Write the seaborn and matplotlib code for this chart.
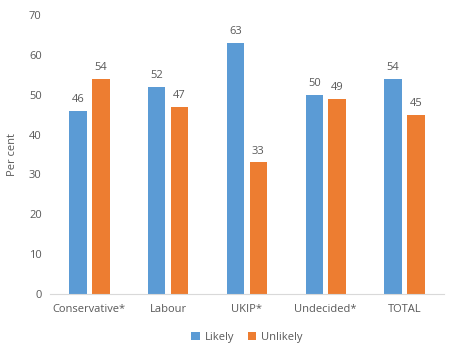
import matplotlib
matplotlib.use("Agg")
import matplotlib.pyplot as plt
import seaborn as sns
import pandas as pd

categories = ["Conservative*", "Labour", "UKIP*", "Undecided*", "TOTAL"]
likely = [46, 52, 63, 50, 54]
unlikely = [54, 47, 33, 49, 45]
series = ["Likely", "Unlikely"]

df = pd.DataFrame({
    "cat": categories * 2,
    "val": likely + unlikely,
    "series": [series[0]] * len(categories) + [series[1]] * len(categories),
})

sns.set_theme(style="white")
plt.rcParams['font.family'] = ['Open Sans', 'DejaVu Sans']
txt = "#595959"
fs = 8

fig = plt.figure(figsize=(4.59, 3.5), dpi=100)
ax = fig.add_axes([0.109, 0.16, 0.858, 0.797])
sns.barplot(data=df, x="cat", y="val", hue="series", order=categories,
            hue_order=series, palette=["#5B9BD5", "#ED7D31"],
            width=0.58, gap=0.24, ax=ax, legend=True, saturation=1,
            linewidth=0, edgecolor="none")

for cont in ax.containers:
    ax.bar_label(cont, padding=4, fontsize=fs, color=txt)

ax.set_ylim(0, 70)
ax.set_yticks(range(0, 71, 10))
ax.set_xlim(-0.5, len(categories) - 0.5)
ax.set_xlabel("")
ax.set_ylabel("Per cent", fontsize=fs, color=txt, labelpad=8)
ax.tick_params(axis="both", labelsize=fs, colors=txt, length=0)
ax.tick_params(axis="x", pad=7)
ax.tick_params(axis="y", pad=6)
for s in ["top", "right", "left"]:
    ax.spines[s].set_visible(False)
ax.spines["bottom"].set_color("#D9D9D9")
ax.spines["bottom"].set_linewidth(0.8)
ax.grid(False)

leg = ax.legend(loc="upper center", bbox_to_anchor=(0.5, -0.1), ncol=2,
                frameon=False, fontsize=fs, handlelength=0.8, handleheight=0.8,
                handletextpad=0.4, columnspacing=1.2)
for t in leg.get_texts():
    t.set_color(txt)

fig.savefig("out.png", dpi=100)
